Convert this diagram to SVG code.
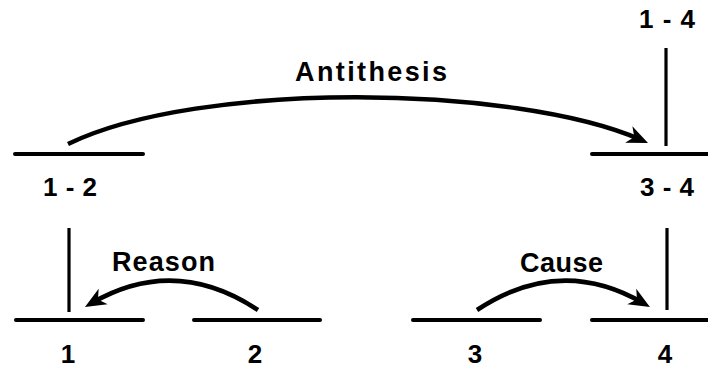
<svg xmlns="http://www.w3.org/2000/svg" width="708" height="368" viewBox="0 0 708 368">
<style>
  .seg { stroke:#000; stroke-width:4; stroke-linecap:round; fill:none; }
  .span { stroke:#000; stroke-width:3.2; fill:none; }
  .arc { stroke:#000; stroke-width:4.5; fill:none; stroke-linecap:butt; marker-end:url(#ah); }
  .lbl { font-family:"Liberation Sans", Arial, sans-serif; font-weight:bold; font-size:26px; fill:#000; }
  .rel { font-family:"Liberation Sans", Arial, sans-serif; font-weight:bold; font-size:27px; fill:#000; }
</style>
<defs>
  <marker id="ah" markerUnits="userSpaceOnUse" markerWidth="28" markerHeight="24" viewBox="-18 -12 28 24" refX="0" refY="0" orient="auto">
    <path d="M8,0 L-13,-9 L-7,0 L-13,9 Z" fill="#000"/>
  </marker>
</defs>

<g id="node-1">
  <line class="seg" x1="16" y1="320" x2="143" y2="320"/>
  <text class="lbl" x="68" y="363" text-anchor="middle">1</text>
</g>
<g id="node-2">
  <line class="seg" x1="194" y1="320" x2="320" y2="320"/>
  <text class="lbl" x="255" y="363" text-anchor="middle">2</text>
</g>
<g id="node-3">
  <line class="seg" x1="413" y1="320" x2="540" y2="320"/>
  <text class="lbl" x="475" y="363" text-anchor="middle">3</text>
</g>
<g id="node-4">
  <line class="seg" x1="592" y1="320" x2="712" y2="320"/>
  <text class="lbl" x="665" y="363" text-anchor="middle">4</text>
</g>
<g id="node-1-2">
  <line class="seg" x1="15" y1="154" x2="143" y2="154"/>
  <text class="lbl" x="43" y="196" textLength="54" lengthAdjust="spacing">1 - 2</text>
</g>
<g id="node-3-4">
  <line class="seg" x1="592" y1="154" x2="712" y2="154"/>
  <text class="lbl" x="640" y="196" textLength="54" lengthAdjust="spacing">3 - 4</text>
</g>
<g id="node-1-4">
  <text class="lbl" x="639" y="28" textLength="56" lengthAdjust="spacing">1 - 4</text>
</g>

<g id="connectors">
  <line class="span" x1="69" y1="228" x2="69" y2="312"/>
  <line class="span" x1="667" y1="228" x2="667" y2="310"/>
  <line class="span" x1="666" y1="48" x2="666" y2="146"/>
  <path class="arc" d="M68,144 C200,80 515,85 640.7,139.7"/>
  <path class="arc" d="M258,310 Q175,255 91.9,303"/>
  <path class="arc" d="M477,310 Q560,255 643,303"/>
  <text class="rel" x="295" y="81" textLength="152" lengthAdjust="spacing">Antithesis</text>
  <text class="rel" x="112" y="271" textLength="103" lengthAdjust="spacing">Reason</text>
  <text class="rel" x="520" y="272" textLength="83" lengthAdjust="spacing">Cause</text>
</g>
</svg>
